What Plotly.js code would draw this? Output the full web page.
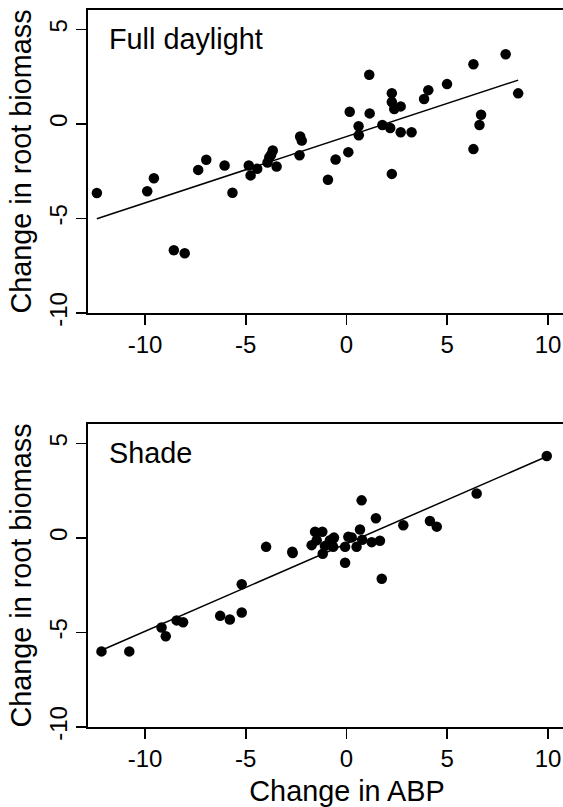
<!DOCTYPE html>
<html>
<head>
<meta charset="utf-8">
<script src="https://cdn.plot.ly/plotly-3.0.1.min.js"></script>
<style>
html,body{margin:0;padding:0;overflow:hidden;background:#fff;}
#chart{width:630px;height:807px;}
</style>
</head>
<body>
<div id="chart"></div>
<script>
// Full daylight panel
const fullX = [-12.39,-9.89,-9.56,-8.57,-8.03,-7.36,-6.96,-6.05,-5.66,-4.85,-4.76,-4.43,-3.92,-3.83,-3.74,-3.66,-3.47,-2.33,-2.30,-2.22,-0.92,-0.54,0.09,0.16,0.60,0.61,1.13,1.15,1.78,2.17,2.25,2.25,2.25,2.37,2.69,2.69,3.23,3.85,4.06,4.99,6.30,6.30,6.60,6.68,7.90,8.52];
const fullY = [-3.65,-3.56,-2.87,-6.68,-6.84,-2.43,-1.89,-2.20,-3.64,-2.20,-2.72,-2.37,-2.04,-1.76,-1.63,-1.40,-2.25,-1.65,-0.66,-0.88,-2.95,-1.88,-1.49,0.65,-0.12,-0.60,2.60,0.56,-0.05,-0.21,1.63,1.16,-2.64,0.79,0.93,-0.44,-0.44,1.32,1.79,2.11,3.16,-1.33,-0.05,0.49,3.69,1.62];
// Shade panel
const shadeX = [-12.16,-10.78,-9.18,-8.97,-8.43,-8.11,-6.27,-5.79,-5.20,-5.20,-3.99,-2.69,-2.67,-1.56,-1.20,-1.73,-1.48,-1.18,-1.07,-0.82,-0.66,-0.66,-0.62,-0.07,-0.07,0.09,0.26,0.50,0.67,0.78,0.75,1.25,1.46,1.66,1.75,2.82,4.14,4.48,6.46,9.94];
const shadeY = [-6.00,-6.00,-4.74,-5.20,-4.36,-4.46,-4.12,-4.31,-2.45,-3.94,-0.47,-0.73,-0.80,0.33,0.33,-0.38,-0.12,-0.83,-0.43,-0.12,-0.03,-0.47,0.02,-0.47,-1.31,0.06,0.03,-0.47,0.45,-0.10,1.99,-0.22,1.04,-0.15,-2.16,0.67,0.90,0.60,2.35,4.34];
// fitted lines
const fullFit = {slope: 0.3505, intercept: -0.667};
const shadeFit = {slope: 0.464, intercept: -0.30};
// labels
const panelLabels = ["Full daylight", "Shade"];
const xTickVals = [-10, -5, 0, 5, 10];
const xTickText = ["-10", "-5", "0", "5", "10"];
const yTickVals = [-10, -5, 0, 5];
const yTickText = ["-10", "-5", "0", "5"];
const xTitle = "Change in ABP";
const yTitle = "Change in root biomass";

function fitLine(xs, fit, xa, ya) {
  const lo = Math.min(...xs), hi = Math.max(...xs);
  return {x: [lo, hi], y: [fit.intercept + fit.slope*lo, fit.intercept + fit.slope*hi],
    xaxis: xa, yaxis: ya, mode: 'lines', type: 'scatter',
    line: {color: '#000', width: 1.5}, hoverinfo: 'skip', showlegend: false};
}
function pts(xs, ys, xa, ya) {
  return {x: xs, y: ys, xaxis: xa, yaxis: ya, mode: 'markers', type: 'scatter',
    marker: {color: '#000', size: 10.5, line: {width: 0}}, showlegend: false};
}

const data = [
  fitLine(fullX, fullFit, 'x', 'y'),
  pts(fullX, fullY, 'x', 'y'),
  fitLine(shadeX, shadeFit, 'x2', 'y2'),
  pts(shadeX, shadeY, 'x2', 'y2')
];

const font = {family: 'Liberation Sans, Arial, sans-serif', color: '#000'};
const tickFont = {family: font.family, color: '#000', size: 24};
const titleFont = {family: font.family, color: '#000', size: 28.8};

function xax(extra) {
  return Object.assign({
    range: [-12.83, 12.88], showgrid: false, zeroline: false,
    showline: true, mirror: true, linecolor: '#000', linewidth: 1.6,
    ticks: 'outside', ticklen: 10, tickwidth: 1.5, tickcolor: '#000',
    tickmode: 'array', tickvals: xTickVals, ticktext: xTickText,
    tickfont: tickFont, fixedrange: true
  }, extra);
}
function yax(extra) {
  return Object.assign({
    range: [-10, 6.03], showgrid: false, zeroline: false,
    showline: true, mirror: true, linecolor: '#000', linewidth: 1.6,
    ticks: 'outside', ticklen: 10, tickwidth: 1.5, tickcolor: '#000',
    tickmode: 'array', tickvals: yTickVals, ticktext: yTickText,
    tickangle: -90, tickfont: tickFont, fixedrange: true,
    title: {text: yTitle, font: titleFont, standoff: 5}
  }, extra);
}

const layout = {
  width: 630, height: 807,
  margin: {l: 88, r: 24, t: 10, b: 80, pad: 0},
  paper_bgcolor: '#fff', plot_bgcolor: '#fff',
  font: font,
  showlegend: false,
  xaxis: xax({domain: [0, 1], anchor: 'y'}),
  yaxis: yax({domain: [0.5774, 1], anchor: 'x'}),
  xaxis2: xax({domain: [0, 1], anchor: 'y2', title: {text: xTitle, font: titleFont, standoff: 10}}),
  yaxis2: yax({domain: [0, 0.4226], anchor: 'x2'}),
  annotations: [
    {text: panelLabels[0], xref: 'x domain', yref: 'y domain', x: 0.036, y: 0.905,
     xanchor: 'left', yanchor: 'middle', showarrow: false, font: titleFont},
    {text: panelLabels[1], xref: 'x2 domain', yref: 'y2 domain', x: 0.036, y: 0.905,
     xanchor: 'left', yanchor: 'middle', showarrow: false, font: titleFont}
  ]
};

Plotly.newPlot('chart', data, layout, {displayModeBar: false, staticPlot: true});
</script>
</body>
</html>
